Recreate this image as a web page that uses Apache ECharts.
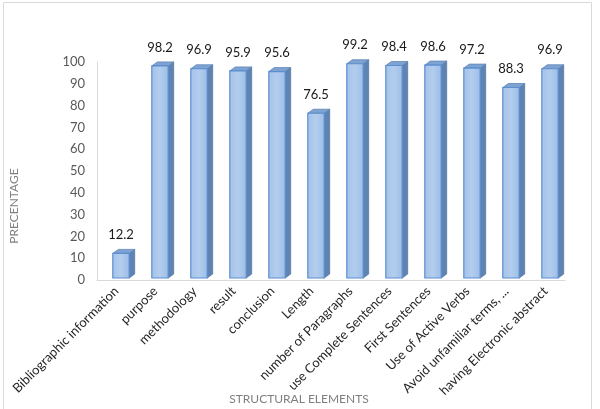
<!DOCTYPE html>
<html>
<head>
<meta charset="utf-8">
<script src="https://cdn.jsdelivr.net/npm/echarts@6/dist/echarts.min.js"></script>
<style>
  html, body { margin: 0; padding: 0; background: #fff; }
  #main { width: 600px; height: 409px; }
</style>
</head>
<body>
<div id="main"></div>
<script>
var categories = ['Bibliographic information', 'purpose', 'methodology', 'result', 'conclusion', 'Length',
  'number of Paragraphs', 'use Complete Sentences', 'First Sentences', 'Use of Active Verbs',
  'Avoid unfamiliar terms, ...', 'having Electronic abstract'];
var values = [12.2, 98.2, 96.9, 95.9, 95.6, 76.5, 99.2, 98.4, 98.6, 97.2, 88.3, 96.9];
var yTicks = [0, 10, 20, 30, 40, 50, 60, 70, 80, 90, 100];

var chart = echarts.init(document.getElementById('main'));
var font = 'Lato, "Open Sans", sans-serif';

// 3D-ish column, excel style
function renderBar(params, api) {
  var idx = api.value(0);
  var v = api.value(1);
  var top = api.coord([idx, v]);
  var base = api.coord([idx, 0]);
  var w = api.size([1, 0])[0] * 0.42;
  var shift = 4.5, dx = 5.5, dy = 4;
  var x0 = top[0] - w / 2 + shift, x1 = x0 + w;
  var y0 = top[1], y1 = base[1] - 2;
  return {
    type: 'group',
    children: [
      {
        type: 'polygon',
        shape: { points: [[x1, y0], [x1 + dx, y0 - dy], [x1 + dx, y1 - dy], [x1, y1]] },
        style: { fill: '#5f84b3', stroke: '#55779f', lineWidth: 0.8 }
      },
      {
        type: 'polygon',
        shape: { points: [[x0, y0], [x0 + dx, y0 - dy], [x1 + dx, y0 - dy], [x1, y0]] },
        style: { fill: '#7ea3d2', stroke: '#5f86b8', lineWidth: 0.8 }
      },
      {
        type: 'rect',
        shape: { x: x0, y: y0, width: w, height: y1 - y0 },
        style: {
          fill: new echarts.graphic.LinearGradient(0, 0, 1, 0, [
            { offset: 0, color: '#a4c2e8' },
            { offset: 0.5, color: '#b2cdee' },
            { offset: 1, color: '#9dbde6' }
          ]),
          stroke: '#5b8fd0', lineWidth: 1.2
        }
      },
      {
        type: 'text',
        style: {
          text: String(values[idx]),
          x: x0 + w / 2,
          y: y0 - 12,
          align: 'center',
          verticalAlign: 'bottom',
          fill: '#1a1a1a',
          font: '13px ' + font
        }
      }
    ]
  };
}

var option = {
  animation: false,
  backgroundColor: '#fff',
  graphic: [{
    type: 'rect',
    shape: { x: 3.5, y: 2.5, width: 588, height: 420 },
    style: { fill: 'none', stroke: '#d9d9d9', lineWidth: 1 }
  }],
  grid: { left: 97, right: 35, top: 62, bottom: 129, containLabel: false, outerBoundsMode: 'none' },
  xAxis: {
    type: 'category',
    data: categories,
    name: 'STRUCTURAL ELEMENTS',
    nameLocation: 'middle',
    nameGap: 113,
    nameMoveOverlap: false,
    nameTextStyle: { color: '#7f7f7f', fontSize: 12, fontFamily: font, padding: [0, 64, 0, 0] },
    axisLine: { lineStyle: { color: '#d9d9d9', width: 1 } },
    axisTick: { show: false },
    axisLabel: { rotate: 45, interval: 0, margin: 9, color: '#262626', fontSize: 13, fontFamily: font }
  },
  yAxis: {
    type: 'value',
    min: 0,
    max: 100,
    interval: 10,
    name: 'PRECENTAGE',
    nameLocation: 'middle',
    nameGap: 77,
    nameMoveOverlap: false,
    nameTextStyle: { color: '#7f7f7f', fontSize: 12, fontFamily: font, padding: [0, 70, 0, 0] },
    axisLine: { show: true, lineStyle: { color: '#d9d9d9', width: 1 } },
    axisTick: { show: false },
    splitLine: { show: false },
    axisLabel: {
      color: '#595959', fontSize: 13, fontFamily: font, margin: 12,
      formatter: function (v) { return yTicks.indexOf(v) >= 0 ? String(v) : ''; }
    }
  },
  series: [{
    type: 'custom',
    renderItem: renderBar,
    data: values.map(function (v, i) { return [i, v]; }),
    encode: { x: 0, y: 1 }
  }]
};

chart.setOption(option);
</script>
</body>
</html>
